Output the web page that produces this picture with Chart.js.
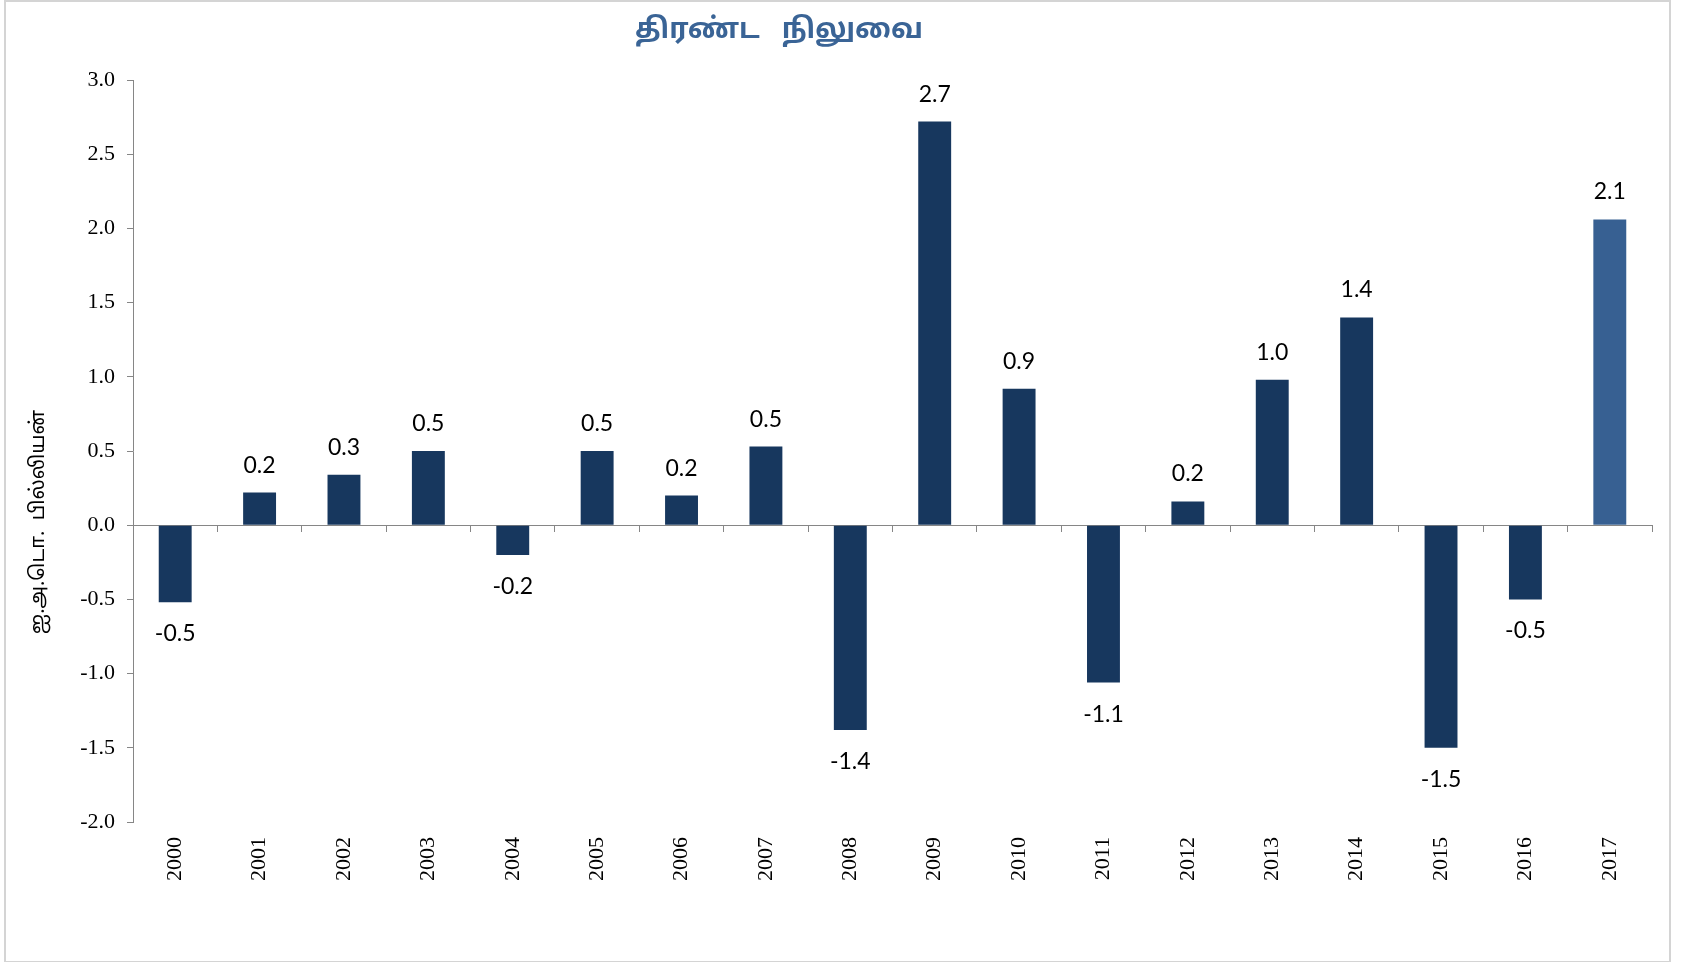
<!DOCTYPE html>
<html>
<head>
<meta charset="utf-8">
<script src="https://cdn.jsdelivr.net/npm/chart.js@4"></script>
<style>
  html, body { margin: 0; padding: 0; background: #ffffff; }
  #wrap { position: relative; width: 1686px; height: 962px; }
  #frame { position: absolute; left: 4px; top: 0px; width: 1663px; height: 959px; border: 2px solid #d4d4d4; pointer-events: none; }
  canvas { display: block; }
</style>
</head>
<body>
<div id="wrap">
  <canvas id="c" width="1686" height="962"></canvas>
  <div id="frame"></div>
</div>
<script>
const chartTitle = 'திரண்ட   நிலுவை';
const yAxisTitle = 'ஐ.அ.டொ.  பில்லியன்';
const years = ['2000','2001','2002','2003','2004','2005','2006','2007','2008','2009','2010','2011','2012','2013','2014','2015','2016','2017'];
const balance = [-0.52, 0.22, 0.34, 0.50, -0.20, 0.50, 0.20, 0.53, -1.38, 2.72, 0.92, -1.06, 0.16, 0.98, 1.40, -1.50, -0.50, 2.06];
const highlightYear = '2017';
const yMin = -2.0, yMax = 3.0, yStep = 0.5;

const DARK = '#17375E';
const LIGHT = '#376092';
const AXIS = '#868686';

const overlay = {
  id: 'overlay',
  afterDatasetsDraw(chart) {
    const ctx = chart.ctx;
    const meta = chart.getDatasetMeta(0);
    ctx.save();
    ctx.fillStyle = '#000000';
    ctx.font = '23px Lato, "Open Sans", sans-serif';
    ctx.textAlign = 'center';
    ctx.textBaseline = 'alphabetic';
    meta.data.forEach((bar, i) => {
      const v = balance[i];
      const txt = v.toFixed(1);
      const y = v >= 0 ? bar.y - 20 : bar.y + 39;
      ctx.fillText(txt, bar.x, y);
    });
    ctx.restore();
  },
  afterDraw(chart) {
    const ctx = chart.ctx;
    ctx.save();
    ctx.fillStyle = '#3A6496';
    ctx.font = 'bold 28px "Noto Sans Tamil", "Lohit Tamil", "Noto Sans", sans-serif';
    ctx.textAlign = 'center';
    ctx.textBaseline = 'middle';
    ctx.fillText(chartTitle, 779, 32);
    ctx.restore();

    ctx.save();
    ctx.translate(40, 522);
    ctx.rotate(-Math.PI / 2);
    ctx.fillStyle = '#000000';
    ctx.font = '20px "Noto Sans Tamil", "Lohit Tamil", "Noto Sans", sans-serif';
    ctx.textAlign = 'center';
    ctx.textBaseline = 'middle';
    ctx.fillText(yAxisTitle, 0, 0);
    ctx.restore();
  }
};

new Chart(document.getElementById('c'), {
  type: 'bar',
  data: {
    labels: years,
    datasets: [{
      data: balance,
      xAxisID: 'x',
      yAxisID: 'y',
      backgroundColor: (c) => years[c.dataIndex] === highlightYear ? LIGHT : DARK,
      borderWidth: 0,
      categoryPercentage: 0.39,
      barPercentage: 1.0
    }]
  },
  options: {
    responsive: false,
    animation: false,
    layout: { padding: { top: 80, right: 34, bottom: 0, left: 0 } },
    plugins: { legend: { display: false }, title: { display: false }, tooltip: { enabled: false } },
    scales: {
      x: {
        type: 'category',
        position: 'bottom',
        offset: true,
        grid: { display: false, drawTicks: false, offset: true },
        border: { display: false },
        ticks: {
          minRotation: 90, maxRotation: 90, padding: 15, autoSkip: false,
          color: '#000000',
          font: { family: '"Liberation Serif", "Times New Roman", serif', size: 22 }
        },
        afterFit(scale) { scale.height = 140; }
      },
      x0: {
        type: 'category',
        position: { y: 0 },
        offset: true,
        grid: { display: true, drawOnChartArea: false, drawTicks: true, tickLength: 6, offset: true, color: AXIS, lineWidth: 1 },
        border: { display: true, color: AXIS, width: 1 },
        ticks: { display: false }
      },
      y: {
        min: yMin, max: yMax,
        position: 'left',
        grid: { display: true, drawOnChartArea: false, drawTicks: true, tickLength: 6, color: AXIS, lineWidth: 1 },
        border: { display: true, color: AXIS, width: 1 },
        ticks: {
          stepSize: yStep, padding: 12, color: '#000000',
          font: { family: '"Liberation Serif", "Times New Roman", serif', size: 22 },
          callback: (v) => Number(v).toFixed(1)
        },
        afterFit(scale) { scale.width = 133; }
      }
    }
  },
  plugins: [overlay]
});
</script>
</body>
</html>
